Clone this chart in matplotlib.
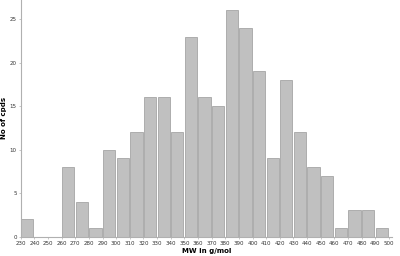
import matplotlib
matplotlib.use('Agg')
import matplotlib.pyplot as plt
import numpy as np

# bin left edges (g/mol) and counts
bin_left = [230, 240, 250, 260, 270, 280, 290, 300, 310, 320, 330, 340, 350,
            360, 370, 380, 390, 400, 410, 420, 430, 440, 450, 460, 470, 480, 490]
counts = [2, 0, 0, 8, 4, 1, 10, 9, 12, 16, 16, 12, 23,
          16, 15, 26, 24, 19, 9, 18, 12, 8, 7, 1, 3, 3, 1]
xticks = list(range(230, 501, 10))
yticks = [0, 5, 10, 15, 20, 25]

fig = plt.figure(figsize=(4, 2.56), dpi=100)
ax = fig.add_axes([0.052, 0.076, 0.927, 0.924])

ax.bar(np.array(bin_left) + 0.3, counts, width=9.0, align='edge',
       color='#c0c0c0', edgecolor='#9a9a9a', linewidth=0.5)

ax.set_xlim(230, 502)
ax.set_ylim(0, 27.2)
ax.set_xticks(xticks)
ax.set_yticks(yticks)
ax.tick_params(labelsize=4, length=1.5, width=0.5, color='#b0b0b0',
               labelcolor='#333333', pad=1.5)

for side in ['top', 'right']:
    ax.spines[side].set_visible(False)
for side in ['left', 'bottom']:
    ax.spines[side].set_color('#b0b0b0')
    ax.spines[side].set_linewidth(0.8)

ax.set_xlabel('MW in g/mol', fontsize=5, fontweight='bold', labelpad=2)
ax.set_ylabel('No of cpds', fontsize=5, fontweight='bold')
ax.yaxis.set_label_coords(-0.036, 0.5)

fig.savefig('out.png', dpi=100)
